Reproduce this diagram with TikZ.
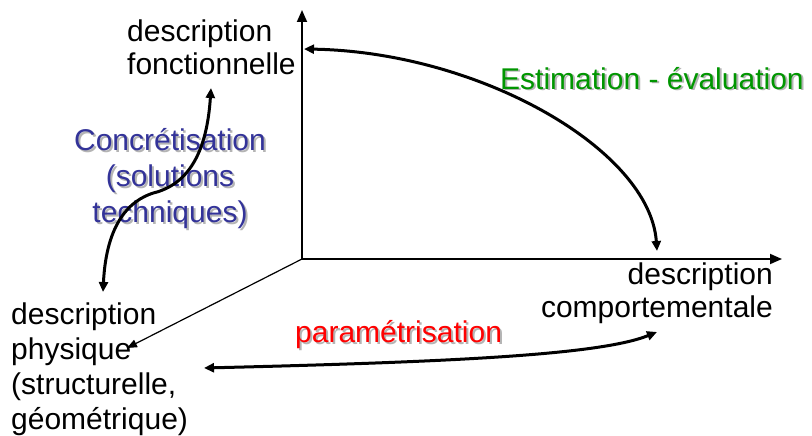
\documentclass[tikz,border=0pt]{standalone}
\usepackage{fontspec}
\setmainfont{Liberation Sans}
\usetikzlibrary{arrows.meta}

\definecolor{concblue}{RGB}{51,51,153}
\definecolor{estgreen}{RGB}{0,150,0}
\definecolor{shadegray}{RGB}{180,180,180}

\begin{document}
\begin{tikzpicture}[
  x=1pt, y=-1pt,
  axis/.style={-{Triangle[length=12pt,width=10pt]}, line width=1.8pt},
  hand/.style={{Triangle[length=10pt,width=9pt]}-{Triangle[length=10pt,width=9pt]},
    line width=3pt, line cap=round},
  thin/.style={-{Triangle[length=10pt,width=8pt]}, line width=1.2pt},
  lab/.style={font=\fontsize{30}{33}\selectfont, inner sep=0pt},
  shade/.style={lab, text=shadegray}
]
\path[use as bounding box] (0,0) rectangle (812,436);

% axes
\coordinate (O) at (302,259);
\coordinate (ytip) at (302,10);
\coordinate (xtip) at (782,259);
\draw[axis] (O) -- (ytip);
\draw[axis] (O) -- (xtip);

% labels (base = last line)
\node[lab, align=left, anchor=base west] (fonct) at (127,75)
  {description\\fonctionnelle};
\node[lab, align=right, anchor=base east] (comport) at (773,317)
  {description\\comportementale};
\node[lab, align=left, anchor=base west, font=\fontsize{30}{35}\selectfont] (phys) at (11,429)
  {description\\physique\\(structurelle,\\géométrique)};

\node[shade, align=center, anchor=base, font=\fontsize{30}{36}\selectfont] at (172,224)
  {Concrétisation\\(solutions\\techniques)};
\node[lab, align=center, anchor=base, text=concblue, font=\fontsize{30}{36}\selectfont] (conc) at (170,222)
  {Concrétisation\\(solutions\\techniques)};
\node[shade, anchor=base west] at (502,91) {Estimation - évaluation};
\node[lab, anchor=base west, text=estgreen] (estim) at (500,89) {Estimation - évaluation};
\node[shade, anchor=base west] at (297,344) {paramétrisation};
\node[lab, anchor=base west, text=red] (param) at (295,342) {paramétrisation};

% curved arrows
\coordinate (fctEnd) at (211,88);
\coordinate (physEnd) at (103,292);
\coordinate (fctAxis) at (304,49);
\coordinate (cmpAxis) at (657,251);
\coordinate (physLeft) at (204,368);
\coordinate (cmpLow) at (657,332);
\coordinate (physTip) at (127,348);

\draw[hand] (fctEnd) .. controls (207,150) and (190,182) .. (157,192)
  .. controls (125,200) and (106,230) .. (physEnd);
\draw[hand] (fctAxis) .. controls (480,52) and (650,150) .. (cmpAxis);
\draw[hand] (physLeft) .. controls (450,362) and (600,355) .. (cmpLow);
\draw[thin] (O) -- (physTip);
\end{tikzpicture}
\end{document}
